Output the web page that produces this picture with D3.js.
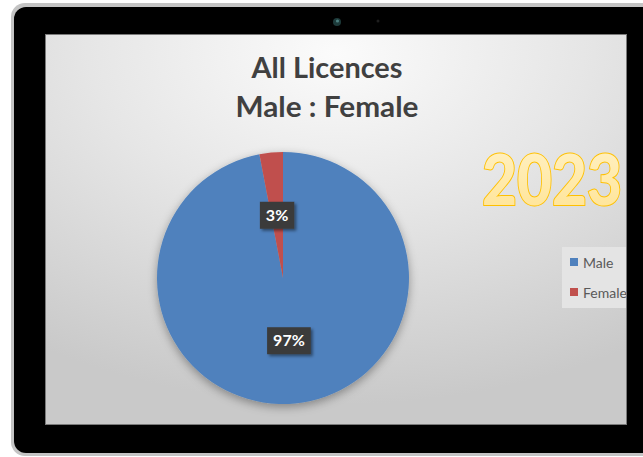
<!DOCTYPE html>
<html>
<head>
<meta charset="utf-8">
<script src="https://cdn.jsdelivr.net/npm/d3@7"></script>
<style>
	body { margin: 0; background: #fff; }
	svg { display: block; }
</style>
</head>
<body>
<div id="chart"></div>
<script>

// Chart data
var categories = ["Male", "Female"];
var shares = [97, 3];
var colors = ["#4f81bd", "#c0504d"];
var titleLines = ["All Licences", "Male : Female"];
var yearLabel = "2023";

var width = 643;
var height = 457;

// screen area inside the tablet frame
var screen = { x: 46, y: 35, w: 580, h: 389 };

var svg = d3.select("#chart")
	.append("svg")
	.attr("width", width)
	.attr("height", height);

var defs = svg.append("defs");

// Background gradient of the screen
var bg = defs.append("radialGradient")
	.attr("id", "screenBg")
	.attr("cx", "50%").attr("cy", "0%")
	.attr("r", "95%")
	.attr("fx", "50%").attr("fy", "5%");
bg.append("stop").attr("offset", "0%").attr("stop-color", "#fbfbfb");
bg.append("stop").attr("offset", "45%").attr("stop-color", "#e6e6e6");
bg.append("stop").attr("offset", "100%").attr("stop-color", "#c9c9c9");

var yearGrad = defs.append("linearGradient")
	.attr("id", "yearFill")
	.attr("x1", 0).attr("y1", 0).attr("x2", 0).attr("y2", 1);
yearGrad.append("stop").attr("offset", "0%").attr("stop-color", "#fff2c8");
yearGrad.append("stop").attr("offset", "100%").attr("stop-color", "#ffe393");

var pieShadow = defs.append("filter")
	.attr("id", "pieShadow")
	.attr("x", "-20%").attr("y", "-20%")
	.attr("width", "140%").attr("height", "140%");
pieShadow.append("feDropShadow")
	.attr("dx", 0).attr("dy", 3)
	.attr("stdDeviation", 5)
	.attr("flood-color", "#000")
	.attr("flood-opacity", 0.35);

var boxShadow = defs.append("filter")
	.attr("id", "boxShadow")
	.attr("x", "-30%").attr("y", "-30%")
	.attr("width", "170%").attr("height", "170%");
boxShadow.append("feDropShadow")
	.attr("dx", 2).attr("dy", 2)
	.attr("stdDeviation", 1.5)
	.attr("flood-color", "#000")
	.attr("flood-opacity", 0.45);

defs.append("clipPath")
	.attr("id", "screenClip")
	.append("rect")
	.attr("x", screen.x).attr("y", screen.y)
	.attr("width", screen.w).attr("height", screen.h);

// Tablet frame
svg.append("rect")
	.attr("x", 11).attr("y", 3)
	.attr("width", 660).attr("height", 453)
	.attr("rx", 14)
	.style("fill", "#c4c4c4");
svg.append("rect")
	.attr("x", 14).attr("y", 7)
	.attr("width", 660).attr("height", 446)
	.attr("rx", 12)
	.style("fill", "#000");

// camera
svg.append("circle")
	.attr("cx", 337).attr("cy", 22).attr("r", 4)
	.style("fill", "#1d3a3a");
svg.append("circle")
	.attr("cx", 337.5).attr("cy", 21).attr("r", 1.6)
	.style("fill", "#4d8080");
svg.append("circle")
	.attr("cx", 378).attr("cy", 21).attr("r", 1.5)
	.style("fill", "#1e1e1e");

// Screen
svg.append("rect")
	.attr("x", screen.x - 1).attr("y", screen.y - 1)
	.attr("width", screen.w + 2).attr("height", screen.h + 2)
	.style("fill", "#7a7a7a");

var g = svg.append("g")
	.attr("clip-path", "url(#screenClip)");

g.append("rect")
	.attr("x", screen.x).attr("y", screen.y)
	.attr("width", screen.w).attr("height", screen.h)
	.style("fill", "url(#screenBg)");

// Title
var titleFont = "Lato, 'Open Sans', sans-serif";
var titleWidths = [151, 183];
var titleBase = [78, 117];
g.selectAll("text.title")
	.data(titleLines)
	.enter()
	.append("text")
	.attr("class", "title")
	.attr("x", 327)
	.attr("y", (d, i) => titleBase[i])
	.attr("text-anchor", "middle")
	.attr("textLength", (d, i) => titleWidths[i])
	.attr("lengthAdjust", "spacingAndGlyphs")
	.style("font-family", titleFont)
	.style("font-weight", "bold")
	.style("font-size", "28px")
	.style("fill", "#404040")
	.text(d => d);

// Pie
var cx = 283;
var cy = 278;
var radius = 126;

var pie = d3.pie().sort(null).value(d => d.value);
var arcs = pie(categories.map((c, i) => ({ name: c, value: shares[i] })));

var arc = d3.arc().innerRadius(0).outerRadius(radius);
var labelArc = d3.arc().innerRadius(radius * 0.5).outerRadius(radius * 0.5);

var pieG = g.append("g")
	.attr("transform", "translate(" + cx + "," + cy + ")");

pieG.append("g")
	.style("filter", "url(#pieShadow)")
	.selectAll("path")
	.data(arcs)
	.enter()
	.append("path")
	.attr("d", arc)
	.style("fill", (d, i) => colors[i]);

var total = d3.sum(shares);
var format = d3.format(".0%");

var labels = pieG.selectAll("g.label")
	.data(arcs)
	.enter()
	.append("g")
	.attr("class", "label")
	.attr("transform", d => "translate(" + labelArc.centroid(d) + ")");

labels.append("text")
	.attr("class", "lbl")
	.attr("text-anchor", "middle")
	.attr("dy", "0.36em")
	.style("font-family", titleFont)
	.style("font-weight", "bold")
	.style("font-size", "16px")
	.style("fill", "#fff")
	.text(d => format(d.value / total));

labels.each(function(){
	var grp = d3.select(this);
	var bb = grp.select("text").node().getBBox();
	grp.insert("rect", "text")
		.attr("x", bb.x - 6)
		.attr("y", -13.5)
		.attr("width", bb.width + 12)
		.attr("height", 27)
		.style("fill", "#3b3b3b")
		.style("filter", "url(#boxShadow)");
});

// Year
g.append("text")
	.attr("x", 482)
	.attr("y", 205)
	.attr("textLength", 140)
	.attr("lengthAdjust", "spacingAndGlyphs")
	.style("font-family", titleFont)
	.style("font-weight", "900")
	.style("font-size", "70px")
	.style("fill", "url(#yearFill)")
	.style("stroke", "#ffc000")
	.style("stroke-width", 2)
	.style("paint-order", "stroke")
	.text(yearLabel);

// Legend
var legend = g.append("g")
	.attr("transform", "translate(562,247)");

legend.append("rect")
	.attr("width", 80)
	.attr("height", 61)
	.style("fill", "#e4e4e4");

var items = legend.selectAll("g.item")
	.data(categories)
	.enter()
	.append("g")
	.attr("class", "item")
	.attr("transform", (d, i) => "translate(8," + (11 + i * 30) + ")");

items.append("rect")
	.attr("width", 8)
	.attr("height", 8)
	.style("fill", (d, i) => colors[i]);

items.append("text")
	.attr("x", 13)
	.attr("y", 9.5)
	.style("font-family", titleFont)
	.style("font-size", "14px")
	.style("fill", "#595959")
	.text(d => d);

</script>
</body>
</html>
